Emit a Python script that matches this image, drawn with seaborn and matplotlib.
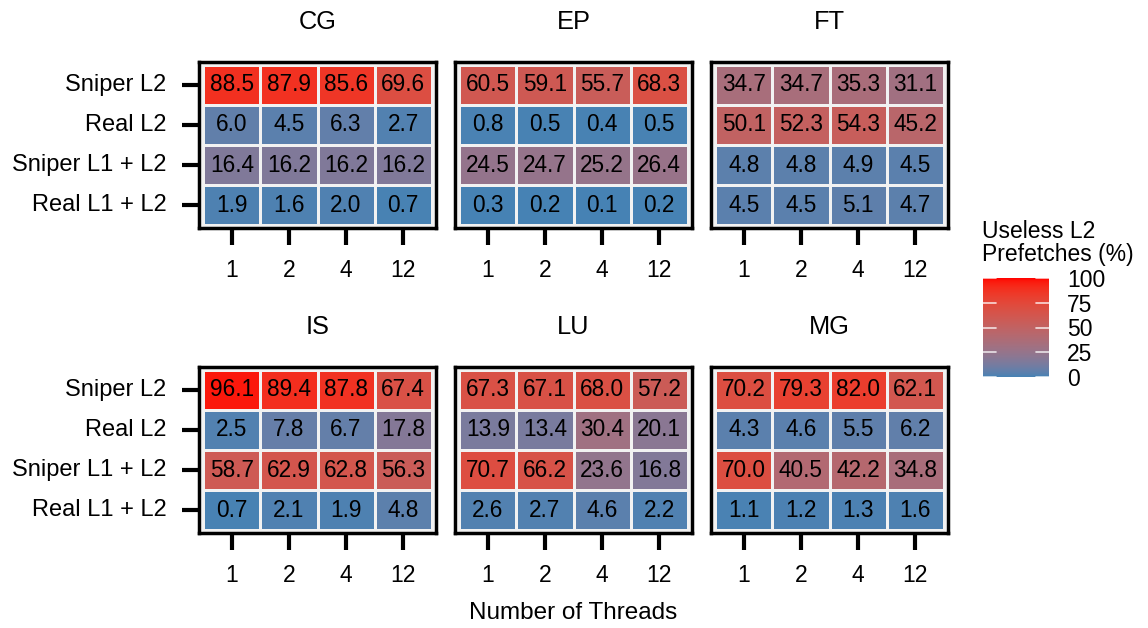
import numpy as np
import pandas as pd
import matplotlib
matplotlib.use('Agg')
import matplotlib.pyplot as plt
import seaborn as sns
from matplotlib.colors import ListedColormap, to_rgb

# --- data ---
benchmarks = ['CG', 'EP', 'FT', 'IS', 'LU', 'MG']
rows = ['Sniper L2', 'Real L2', 'Sniper L1 + L2', 'Real L1 + L2']
threads = ['1', '2', '4', '12']

cg = [[88.5, 87.9, 85.6, 69.6], [6.0, 4.5, 6.3, 2.7], [16.4, 16.2, 16.2, 16.2], [1.9, 1.6, 2.0, 0.7]]
ep = [[60.5, 59.1, 55.7, 68.3], [0.8, 0.5, 0.4, 0.5], [24.5, 24.7, 25.2, 26.4], [0.3, 0.2, 0.1, 0.2]]
ft = [[34.7, 34.7, 35.3, 31.1], [50.1, 52.3, 54.3, 45.2], [4.8, 4.8, 4.9, 4.5], [4.5, 4.5, 5.1, 4.7]]
is_ = [[96.1, 89.4, 87.8, 67.4], [2.5, 7.8, 6.7, 17.8], [58.7, 62.9, 62.8, 56.3], [0.7, 2.1, 1.9, 4.8]]
lu = [[67.3, 67.1, 68.0, 57.2], [13.9, 13.4, 30.4, 20.1], [70.7, 66.2, 23.6, 16.8], [2.6, 2.7, 4.6, 2.2]]
mg = [[70.2, 79.3, 82.0, 62.1], [4.3, 4.6, 5.5, 6.2], [70.0, 40.5, 42.2, 34.8], [1.1, 1.2, 1.3, 1.6]]
values = [cg, ep, ft, is_, lu, mg]
cbar_ticks = [0, 25, 50, 75, 100]


# gradient steelblue -> red interpolated in CIELAB (like ggplot's gradient)
M = np.array([[0.4124, 0.3576, 0.1805], [0.2126, 0.7152, 0.0722], [0.0193, 0.1192, 0.9505]])
WHITE = np.array([0.95047, 1.0, 1.08883])


def rgb2lab(c):
    c = np.asarray(c, float)
    lin = np.where(c <= 0.04045, c / 12.92, ((c + 0.055) / 1.055) ** 2.4)
    xyz = M @ lin / WHITE
    f = np.where(xyz > (6 / 29) ** 3, np.cbrt(xyz), xyz / (3 * (6 / 29) ** 2) + 4 / 29)
    return np.array([116 * f[1] - 16, 500 * (f[0] - f[1]), 200 * (f[1] - f[2])])


def lab2rgb(lab):
    L, a, b = lab
    fy = (L + 16) / 116
    f = np.array([fy + a / 500, fy, fy - b / 200])
    xyz = np.where(f > 6 / 29, f ** 3, 3 * (6 / 29) ** 2 * (f - 4 / 29)) * WHITE
    lin = np.clip(np.linalg.solve(M, xyz), 0, 1)
    c = np.where(lin <= 0.0031308, 12.92 * lin, 1.055 * lin ** (1 / 2.4) - 0.055)
    return np.clip(c, 0, 1)


lo, hi = rgb2lab(to_rgb('steelblue')), rgb2lab(to_rgb('red'))
cmap = ListedColormap([lab2rgb(lo + t * (hi - lo)) for t in np.linspace(0, 1, 256)])

sns.set_style('white')
plt.rcParams['font.family'] = ['Liberation Sans', 'DejaVu Sans']
plt.rcParams['text.color'] = 'black'
plt.rcParams['xtick.color'] = 'black'
plt.rcParams['ytick.color'] = 'black'

fig = plt.figure(figsize=(11.48, 6.28), dpi=100)
W, H = 1148, 628
lefts = [199, 455, 711]
tops = [62, 367]
aw, ah = 237, 166

for i, (name, v) in enumerate(zip(benchmarks, values)):
    r, c = divmod(i, 3)
    ax = fig.add_axes([lefts[c] / W, 1 - (tops[r] + ah) / H, aw / W, ah / H])
    df = pd.DataFrame(v, index=rows, columns=threads)
    sns.heatmap(df, ax=ax, cmap=cmap, vmin=0, vmax=100, annot=True, fmt='.1f',
                annot_kws={'fontsize': 16.3, 'color': 'black'},
                linewidths=0.8, linecolor='#f2f2f2', cbar=False)
    # small white margin between the cells and the panel border
    ax.set_xlim(-0.075, 4.075)
    ax.set_ylim(4.07, -0.07)
    for s in ax.spines.values():
        s.set_visible(True)
        s.set_linewidth(2.5)
        s.set_color('black')
    ax.set_title(name, fontsize=18.3, pad=24)
    ax.tick_params(axis='x', length=12.5, width=3, pad=10, labelsize=16.5, bottom=True, labelrotation=0)
    ax.tick_params(axis='y', length=12.5, width=3, pad=11, labelsize=17, left=True, labelrotation=0)
    ax.set_xlabel('')
    ax.set_ylabel('')
    if c != 0:
        ax.tick_params(axis='y', left=False, labelleft=False)

# colorbar
cax = fig.add_axes([983 / W, 1 - 377 / H, 66 / W, 99 / H])
sm = plt.cm.ScalarMappable(cmap=cmap, norm=plt.Normalize(0, 100))
cb = fig.colorbar(sm, cax=cax, ticks=cbar_ticks)
cb.outline.set_visible(False)
cax.tick_params(axis='y', length=0, labelsize=16.5, pad=13)
for t in cbar_ticks:
    cax.axhline(t, xmin=0, xmax=0.2, color='white', lw=1.2, alpha=0.8)
    cax.axhline(t, xmin=0.8, xmax=1, color='white', lw=1.2, alpha=0.8)
fig.text(982 / W, 1 - 220 / H, 'Useless L2\nPrefetches (%)', fontsize=16.5,
         ha='left', va='top', linespacing=1.0)

fig.text(573 / W, 1 - 613 / H, 'Number of Threads', fontsize=17.5, ha='center', va='center')

plt.savefig('out.png', dpi=100)
